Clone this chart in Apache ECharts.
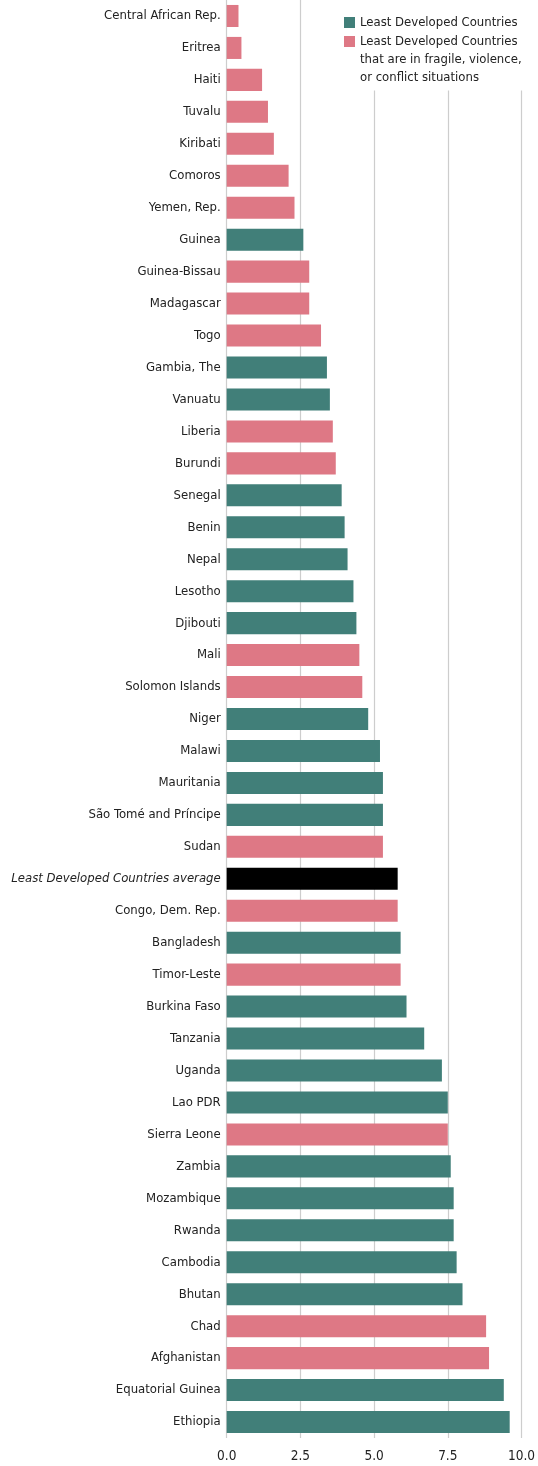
<!DOCTYPE html>
<html>
<head>
<meta charset="utf-8">
<script src="https://cdn.jsdelivr.net/npm/echarts@6/dist/echarts.min.js"></script>
<style>
  html, body { margin: 0; padding: 0; background: #fff; }
  #chart { width: 538px; height: 1466px; }
</style>
</head>
<body>
<div id="chart"></div>
<script>
// Countries, top to bottom
const categories = [
  'Central African Rep.', 'Eritrea', 'Haiti', 'Tuvalu', 'Kiribati', 'Comoros',
  'Yemen, Rep.', 'Guinea', 'Guinea-Bissau', 'Madagascar', 'Togo', 'Gambia, The',
  'Vanuatu', 'Liberia', 'Burundi', 'Senegal', 'Benin', 'Nepal', 'Lesotho',
  'Djibouti', 'Mali', 'Solomon Islands', 'Niger', 'Malawi', 'Mauritania',
  'São Tomé and Príncipe', 'Sudan', 'Least Developed Countries average',
  'Congo, Dem. Rep.', 'Bangladesh', 'Timor-Leste', 'Burkina Faso', 'Tanzania',
  'Uganda', 'Lao PDR', 'Sierra Leone', 'Zambia', 'Mozambique', 'Rwanda',
  'Cambodia', 'Bhutan', 'Chad', 'Afghanistan', 'Equatorial Guinea', 'Ethiopia'
];

const values = [
  0.4, 0.5, 1.2, 1.4, 1.6, 2.1,
  2.3, 2.6, 2.8, 2.8, 3.2, 3.4,
  3.5, 3.6, 3.7, 3.9, 4.0, 4.1, 4.3,
  4.4, 4.5, 4.6, 4.8, 5.2, 5.3,
  5.3, 5.3, 5.8,
  5.8, 5.9, 5.9, 6.1, 6.7,
  7.3, 7.5, 7.5, 7.6, 7.7, 7.7,
  7.8, 8.0, 8.8, 8.9, 9.4, 9.6
];

// L = least developed, F = in fragile, violence or conflict situations, A = group average
const groups = [
  'F', 'F', 'F', 'F', 'F', 'F',
  'F', 'L', 'F', 'F', 'F', 'L',
  'L', 'F', 'F', 'L', 'L', 'L', 'L',
  'L', 'F', 'F', 'L', 'L', 'L',
  'L', 'F', 'A',
  'F', 'L', 'F', 'L', 'L',
  'L', 'L', 'F', 'L', 'L', 'L',
  'L', 'L', 'F', 'F', 'L', 'L'
];

const xTicks = [0, 2.5, 5, 7.5, 10];

const NAME_LDC = 'Least Developed Countries';
const NAME_FCV = 'Least Developed Countries in FCV situations';
const NAME_AVG = 'Least Developed Countries average';
// two leading blank lines keep the first text line level with the legend swatch
const FCV_LEGEND_TEXT = '\n\nLeast Developed Countries\nthat are in fragile, violence,\nor conflict situations';

const FONT = '"Liberation Sans Narrow", "DejaVu Sans Condensed", "Roboto", sans-serif';
const TEAL = '#417f79';
const PINK = '#de7885';

function pick(code) {
  return values.map((v, i) => (groups[i] === code ? v : null));
}

const chart = echarts.init(document.getElementById('chart'), null, { renderer: 'canvas' });

function barSeries(name, code, color) {
  return {
    name: name,
    type: 'bar',
    stack: 'all',
    data: pick(code),
    barCategoryGap: '31%',
    itemStyle: { color: color },
    emphasis: { disabled: true },
    animation: false
  };
}

chart.setOption({
  animation: false,
  backgroundColor: '#ffffff',
  grid: { left: 226.7, right: 14.7, top: 0, bottom: 28, containLabel: false },
  legend: {
    orient: 'vertical',
    left: 340,
    top: -3.5,
    padding: [0, 10, 4, 4],
    backgroundColor: '#ffffff',
    itemWidth: 11,
    itemHeight: 11,
    itemGap: -35,
    icon: 'rect',
    selectedMode: false,
    textStyle: { fontFamily: FONT, fontSize: 13, color: '#222', lineHeight: 18 },
    formatter: function (name) { return name === NAME_FCV ? FCV_LEGEND_TEXT : name; },
    data: [
      { name: NAME_LDC },
      { name: NAME_FCV }
    ]
  },
  xAxis: {
    type: 'value',
    min: 0,
    max: 10,
    interval: 2.5,
    axisLine: { show: false },
    axisTick: { show: false },
    splitLine: { show: true, lineStyle: { color: '#cdcdcd', width: 1.2 } },
    axisLabel: {
      margin: 11,
      fontFamily: FONT,
      fontSize: 13.5,
      color: '#222',
      formatter: function (v) { return xTicks.indexOf(v) >= 0 ? v.toFixed(1) : ''; }
    }
  },
  yAxis: {
    type: 'category',
    inverse: true,
    data: categories,
    axisLine: { show: false },
    axisTick: { show: false },
    splitLine: { show: false },
    axisLabel: {
      margin: 6,
      fontFamily: FONT,
      fontSize: 13,
      color: '#222',
      interval: 0,
      formatter: function (v) { return v === NAME_AVG ? '{i|' + v + '}' : v; },
      rich: {
        i: { fontFamily: FONT, fontSize: 13, fontStyle: 'italic', color: '#222' }
      }
    }
  },
  series: [
    barSeries(NAME_LDC, 'L', TEAL),
    barSeries(NAME_FCV, 'F', PINK),
    barSeries(NAME_AVG, 'A', '#000000')
  ]
});
</script>
</body>
</html>
